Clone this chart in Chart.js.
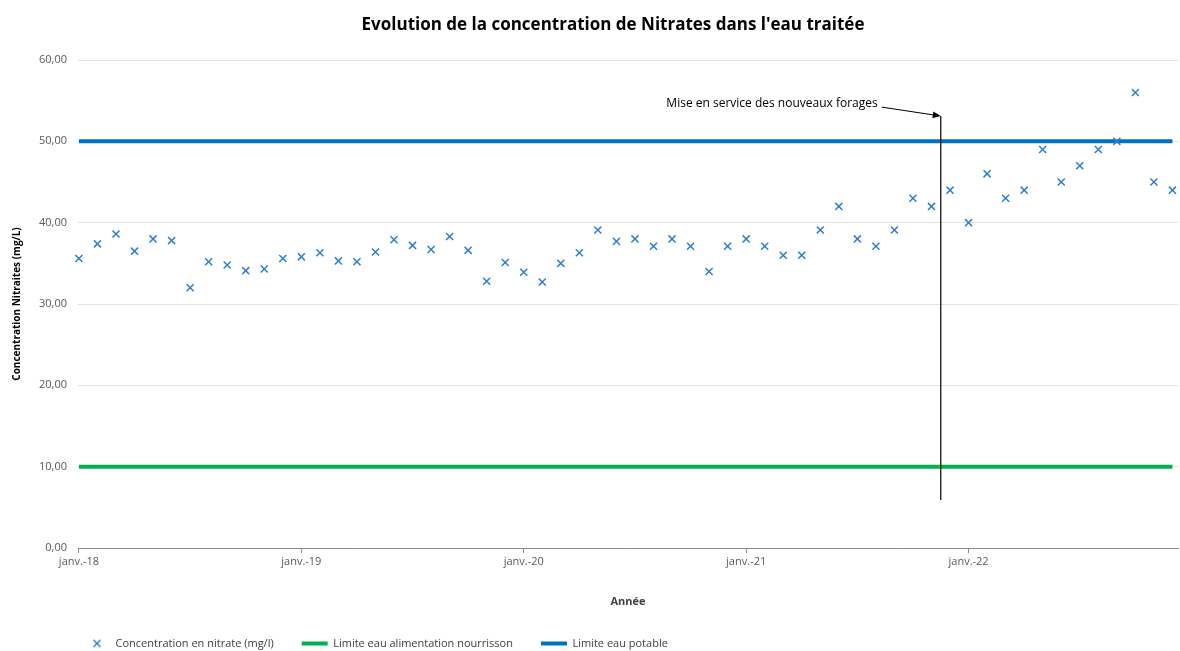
<!DOCTYPE html>
<html>
<head>
<meta charset="utf-8">
<script src="https://cdn.jsdelivr.net/npm/chart.js@4"></script>
<style>
  html, body { margin: 0; padding: 0; background: #fff; }
  #wrap { width: 1180px; height: 651px; position: relative; }
</style>
</head>
<body>
<div id="wrap"><canvas id="nitrates_chart"></canvas></div>
<script>
// mois depuis janv.-18 (0 = janv.-18)
const months = [];
for (let i = 0; i < 60; i++) months.push(i);

const nitrate_2018 = [35.6, 37.4, 38.6, 36.5, 38.0, 37.8, 32.0, 35.2, 34.8, 34.1, 34.3, 35.6];
const nitrate_2019 = [35.8, 36.3, 35.3, 35.2, 36.4, 37.9, 37.2, 36.7, 38.3, 36.6, 32.8, 35.1];
const nitrate_2020 = [33.9, 32.7, 35.0, 36.3, 39.1, 37.7, 38.0, 37.1, 38.0, 37.1, 34.0, 37.1];
const nitrate_2021 = [38.0, 37.1, 36.0, 36.0, 39.1, 42.0, 38.0, 37.1, 39.1, 43.0, 42.0, 44.0];
const nitrate_2022 = [40.0, 46.0, 43.0, 44.0, 49.0, 45.0, 47.0, 49.0, 50.0, 56.0, 45.0, 44.0];
const nitrate = [].concat(nitrate_2018, nitrate_2019, nitrate_2020, nitrate_2021, nitrate_2022);

const limite_nourrisson = 10;
const limite_potable = 50;

const year_ticks = [0, 12, 24, 36, 48];
const year_labels = ['janv.-18', 'janv.-19', 'janv.-20', 'janv.-21', 'janv.-22'];

// mise en service des nouveaux forages (mi-nov. 2021)
const forage_x = 46.5;
const forage_y = [53.1, 5.9];
const forage_label = 'Mise en service des nouveaux forages';

const FONT = '"Open Sans", sans-serif';
const BLUE_PT = '#2b7fd0';

// petite croix pour la legende (sinon chart.js l'etire)
const legendCross = document.createElement('canvas');
legendCross.width = 10; legendCross.height = 10;
(function(){
  let c = legendCross.getContext('2d');
  c.strokeStyle = BLUE_PT; c.lineWidth = 1.5;
  c.beginPath();
  c.moveTo(1.5, 1.5); c.lineTo(8.5, 8.5);
  c.moveTo(8.5, 1.5); c.lineTo(1.5, 8.5);
  c.stroke();
})();

const annotationPlugin = {
  id: 'forage_annotation',
  afterDatasetsDraw(chart) {
    const ctx = chart.ctx;
    const xs = chart.scales.x, ys = chart.scales.y;
    const px = xs.getPixelForValue(forage_x);
    const py = ys.getPixelForValue(forage_y[0]);
    ctx.save();
    const sx = px - 59, sy = py - 9;
    ctx.strokeStyle = '#000';
    ctx.lineWidth = 1;
    ctx.beginPath();
    ctx.moveTo(sx, sy);
    ctx.lineTo(px - 6, py - 1);
    ctx.stroke();
    const ang = Math.atan2(py - sy, px - sx);
    ctx.fillStyle = '#000';
    ctx.beginPath();
    ctx.moveTo(px, py);
    ctx.lineTo(px - 8 * Math.cos(ang) + 3.5 * Math.sin(ang), py - 8 * Math.sin(ang) - 3.5 * Math.cos(ang));
    ctx.lineTo(px - 8 * Math.cos(ang) - 3.5 * Math.sin(ang), py - 8 * Math.sin(ang) + 3.5 * Math.cos(ang));
    ctx.closePath();
    ctx.fill();
    ctx.font = '12px ' + FONT;
    ctx.fillStyle = '#000';
    ctx.textAlign = 'right';
    ctx.textBaseline = 'middle';
    ctx.fillText(forage_label, sx - 4, sy - 4);
    ctx.restore();
  }
};

const titlePlugin = {
  id: 'centred_title',
  afterDraw(chart) {
    const ctx = chart.ctx;
    ctx.save();
    ctx.font = 'bold 17px ' + FONT;
    ctx.fillStyle = '#000';
    ctx.textAlign = 'center';
    ctx.textBaseline = 'middle';
    ctx.fillText('Evolution de la concentration de Nitrates dans l\'eau traitée', 613, 25);
    ctx.restore();
  }
};

// decale la legende en bas a gauche comme dans excel
const legendShift = {
  id: 'legend_shift',
  afterLayout(chart) {
    const lg = chart.legend;
    const pad = lg.options.labels.padding;
    const dx = 84 - (lg.left + pad);
    const dy = 638 - (lg.top + pad);
    lg.left += dx; lg.right += dx;
    lg.top += dy; lg.bottom += dy;
  }
};

let ctx = document.getElementById('nitrates_chart').getContext('2d');
let mychart = new Chart(ctx, {
  type: 'scatter',
  data: {
    datasets: [
      {
        label: 'Concentration en nitrate (mg/l)',
        data: months.map((m, i) => ({x: m, y: nitrate[i]})),
        showLine: false,
        pointStyle: 'crossRot',
        pointRadius: 5,
        pointBorderWidth: 1.5,
        borderColor: BLUE_PT,
        backgroundColor: BLUE_PT,
        borderWidth: 1.5,
        clip: false,
        order: 0
      },
      {
        label: 'Limite eau alimentation nourrisson',
        data: months.map(m => ({x: m, y: limite_nourrisson})),
        showLine: true,
        pointRadius: 0,
        pointStyle: 'line',
        borderColor: '#00b050',
        backgroundColor: '#00b050',
        borderWidth: 4,
        order: 2
      },
      {
        label: 'Limite eau potable',
        data: months.map(m => ({x: m, y: limite_potable})),
        showLine: true,
        pointRadius: 0,
        pointStyle: 'line',
        borderColor: '#0070c0',
        backgroundColor: '#0070c0',
        borderWidth: 4,
        order: 2
      },
      {
        label: 'forage',
        data: forage_y.map(v => ({x: forage_x, y: v})),
        showLine: true,
        pointRadius: 0,
        borderColor: '#000',
        borderWidth: 1.2,
        order: 1
      }
    ]
  },
  options: {
    responsive: true,
    maintainAspectRatio: false,
    animation: false,
    layout: { autoPadding: false, padding: { top: 60, right: 2, left: 0, bottom: 0 } },
    plugins: {
      title: { display: false },
      tooltip: { enabled: false },
      legend: {
        display: true,
        position: 'bottom',
        align: 'start',
        labels: {
          generateLabels: chart => {
            const items = Chart.defaults.plugins.legend.labels.generateLabels(chart);
            items.forEach(it => { if (it.datasetIndex === 0) it.pointStyle = legendCross; });
            return items.filter(it => it.text !== 'forage');
          },
          usePointStyle: true,
          pointStyleWidth: 26,
          boxHeight: 7,
          padding: 28,
          color: '#404040',
          font: { family: FONT, size: 11 }
        }
      }
    },
    scales: {
      x: {
        type: 'linear',
        min: -0.05,
        max: 59.3,
        afterFit: scale => {
          scale.height = 651 - 548 - scale.chart.legend.height;
          scale.paddingRight = 0;
        },
        afterBuildTicks: scale => { scale.ticks = year_ticks.map(v => ({value: v})); },
        ticks: {
          callback: (v) => year_labels[year_ticks.indexOf(v)],
          color: '#595959',
          font: { family: FONT, size: 11 },
          maxRotation: 0,
          padding: 2
        },
        grid: { drawOnChartArea: false, drawTicks: true, tickLength: 5, color: '#8c8c8c' },
        border: { display: true, color: '#8c8c8c', width: 1 },
        title: {
          display: true,
          text: 'Année',
          color: '#404040',
          font: { family: FONT, size: 11, weight: 'bold' },
          padding: { top: 4, bottom: -6 }
        }
      },
      y: {
        min: 0,
        max: 60,
        afterFit: scale => { scale.width = 78; },
        ticks: {
          stepSize: 10,
          callback: v => v.toFixed(2).replace('.', ','),
          color: '#595959',
          font: { family: FONT, size: 11 },
          padding: 11
        },
        grid: { color: '#e8e2d4', drawTicks: false, lineWidth: 1 },
        border: { display: false },
        title: {
          display: true,
          text: 'Concentration Nitraites (mg/L)',
          color: '#000',
          font: { family: FONT, size: 10, weight: 'bold' },
          padding: { top: 11, bottom: 4 }
        }
      }
    }
  },
  plugins: [annotationPlugin, titlePlugin, legendShift]
});
</script>
</body>
</html>
